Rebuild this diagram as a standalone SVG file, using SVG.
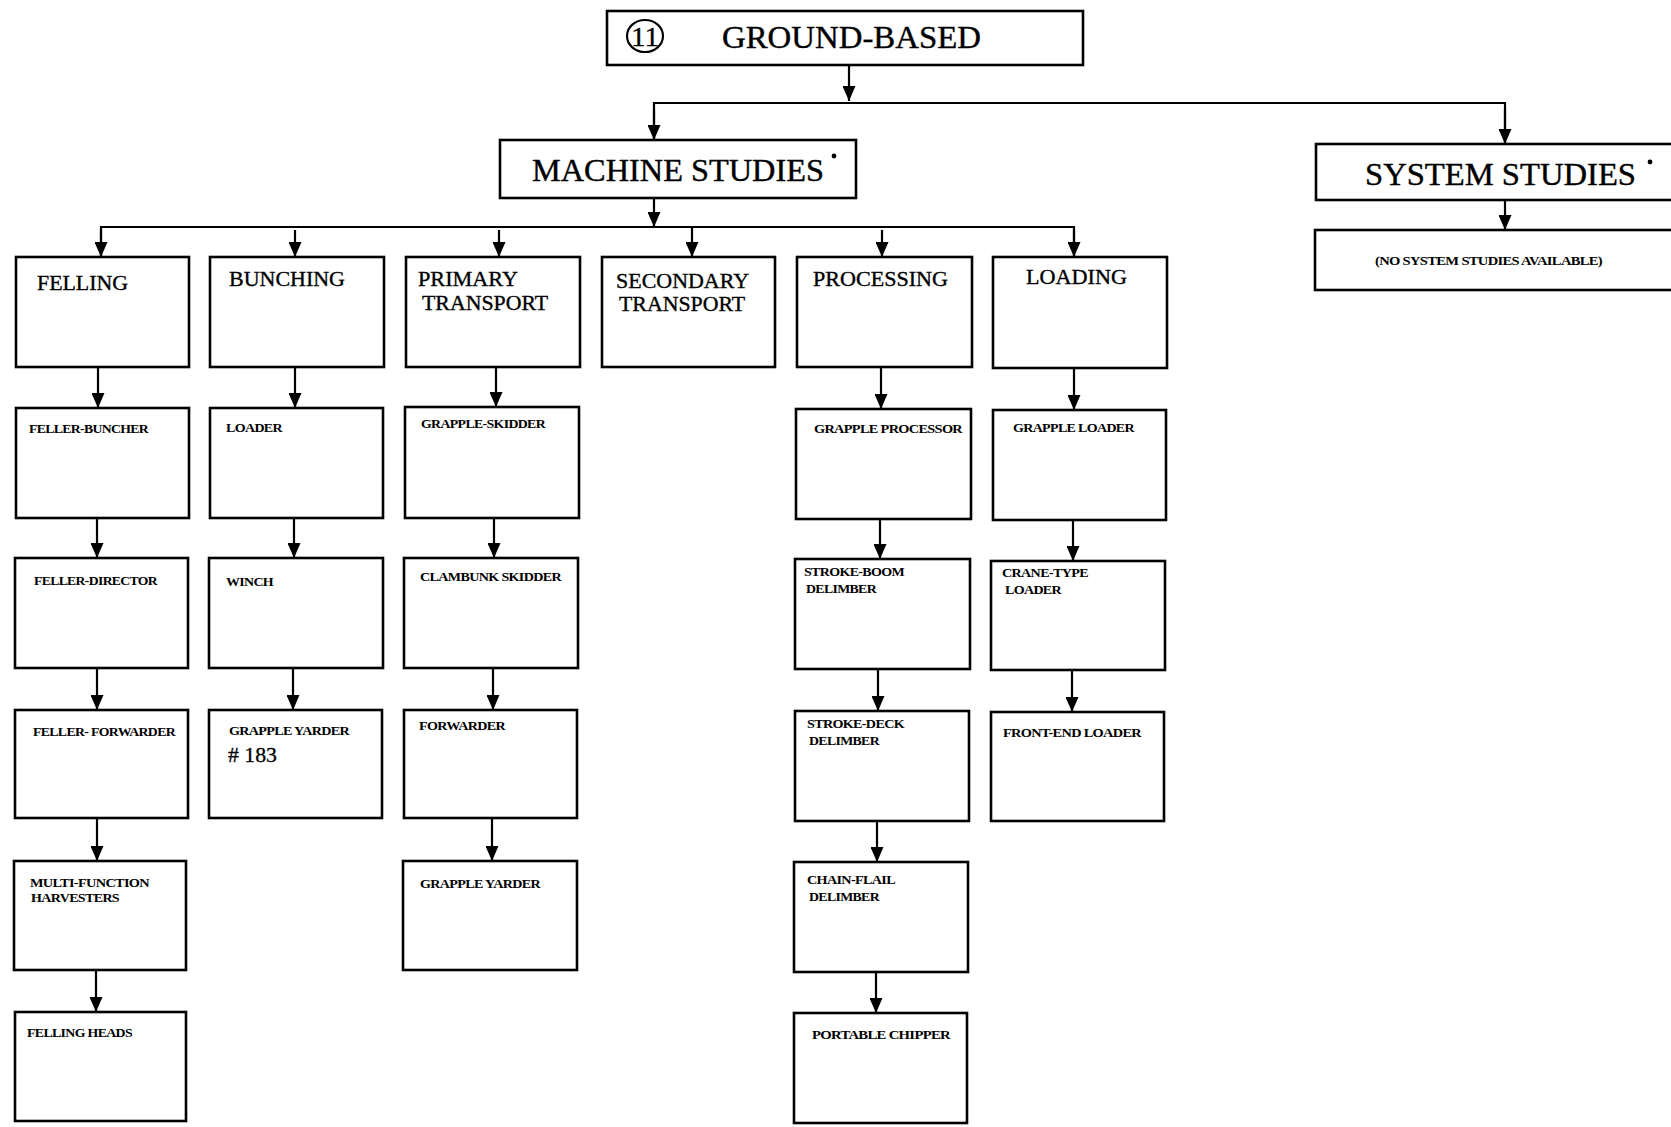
<svg xmlns="http://www.w3.org/2000/svg" width="1671" height="1127" viewBox="0 0 1671 1127">
<style>
.box{fill:#fff;stroke:#000;stroke-width:2.6}
.ln{fill:none;stroke:#000;stroke-width:2.2}
.big{font-family:"Liberation Serif","Times New Roman",serif;font-size:31px;fill:#000;stroke:#000;stroke-width:0.4}
.mid{font-family:"Liberation Serif","Times New Roman",serif;font-size:22px;fill:#000;stroke:#000;stroke-width:0.35}
.sm{font-family:"Liberation Serif","Times New Roman",serif;font-size:13px;font-weight:bold;fill:#000;letter-spacing:-0.6px}
.num{font-family:"Liberation Serif","Times New Roman",serif;font-size:21px;fill:#000;stroke:#000;stroke-width:0.3}
.circ{font-family:"Liberation Serif","Times New Roman",serif;font-size:28px;fill:#000;stroke:#000;stroke-width:0.3}
</style>
<defs>
<marker id="a" markerUnits="userSpaceOnUse" markerWidth="15" markerHeight="13" viewBox="0 0 15 13" refX="15" refY="6.5" orient="auto">
<path d="M0,0 L15,6.5 L0,13 Z" fill="#000"/>
</marker>
</defs>

<g id="connectors">
<line class="ln" x1="849" y1="65" x2="849" y2="101" marker-end="url(#a)"/>
<polyline class="ln" points="654,140 654,103 1505,103 1505,144" />
<line class="ln" x1="654" y1="110" x2="654" y2="140" marker-end="url(#a)"/>
<line class="ln" x1="1505" y1="110" x2="1505" y2="144" marker-end="url(#a)"/>
<line class="ln" x1="1505" y1="200" x2="1505" y2="230" marker-end="url(#a)"/>
<line class="ln" x1="654" y1="198" x2="654" y2="227" marker-end="url(#a)"/>
<polyline class="ln" points="101,257 101,227 1074,227 1074,257"/>
<line class="ln" x1="101" y1="230" x2="101" y2="257" marker-end="url(#a)"/>
<line class="ln" x1="295" y1="230" x2="295" y2="257" marker-end="url(#a)"/>
<line class="ln" x1="499" y1="230" x2="499" y2="257" marker-end="url(#a)"/>
<line class="ln" x1="692" y1="227" x2="692" y2="257" marker-end="url(#a)"/>
<line class="ln" x1="882" y1="230" x2="882" y2="257" marker-end="url(#a)"/>
<line class="ln" x1="1074" y1="230" x2="1074" y2="257" marker-end="url(#a)"/>
<line class="ln" x1="98" y1="367" x2="98" y2="408" marker-end="url(#a)"/>
<line class="ln" x1="97" y1="518" x2="97" y2="558" marker-end="url(#a)"/>
<line class="ln" x1="97" y1="668" x2="97" y2="710" marker-end="url(#a)"/>
<line class="ln" x1="97" y1="818" x2="97" y2="861" marker-end="url(#a)"/>
<line class="ln" x1="96" y1="970" x2="96" y2="1012" marker-end="url(#a)"/>
<line class="ln" x1="295" y1="367" x2="295" y2="408" marker-end="url(#a)"/>
<line class="ln" x1="294" y1="518" x2="294" y2="558" marker-end="url(#a)"/>
<line class="ln" x1="293" y1="668" x2="293" y2="710" marker-end="url(#a)"/>
<line class="ln" x1="496" y1="367" x2="496" y2="407" marker-end="url(#a)"/>
<line class="ln" x1="494" y1="518" x2="494" y2="558" marker-end="url(#a)"/>
<line class="ln" x1="493" y1="668" x2="493" y2="710" marker-end="url(#a)"/>
<line class="ln" x1="492" y1="818" x2="492" y2="861" marker-end="url(#a)"/>
<line class="ln" x1="881" y1="367" x2="881" y2="409" marker-end="url(#a)"/>
<line class="ln" x1="880" y1="519" x2="880" y2="559" marker-end="url(#a)"/>
<line class="ln" x1="878" y1="669" x2="878" y2="711" marker-end="url(#a)"/>
<line class="ln" x1="877" y1="821" x2="877" y2="862" marker-end="url(#a)"/>
<line class="ln" x1="876" y1="972" x2="876" y2="1013" marker-end="url(#a)"/>
<line class="ln" x1="1074" y1="368" x2="1074" y2="410" marker-end="url(#a)"/>
<line class="ln" x1="1073" y1="520" x2="1073" y2="561" marker-end="url(#a)"/>
<line class="ln" x1="1072" y1="670" x2="1072" y2="712" marker-end="url(#a)"/>
</g>

<g id="ground-based">
<rect class="box" x="607" y="11" width="476" height="54"/>
<ellipse cx="645" cy="36" rx="18" ry="16" fill="none" stroke="#000" stroke-width="2.2"/>
<text class="circ" x="645" y="46" text-anchor="middle" textLength="28" lengthAdjust="spacingAndGlyphs">11</text>
<text class="big" x="722" y="48" textLength="259" lengthAdjust="spacingAndGlyphs">GROUND-BASED</text>
</g>

<g id="machine-studies">
<rect class="box" x="500" y="140" width="356" height="58"/>
<text class="big" x="532" y="181" textLength="292" lengthAdjust="spacingAndGlyphs">MACHINE STUDIES</text>
<circle cx="834" cy="156" r="2.4" fill="#000"/>
</g>

<g id="system-studies">
<rect class="box" x="1316" y="144" width="370" height="56"/>
<text class="big" x="1365" y="185" textLength="271" lengthAdjust="spacingAndGlyphs">SYSTEM STUDIES</text>
<circle cx="1650" cy="162" r="2.4" fill="#000"/>
</g>

<g id="no-system-studies">
<rect class="box" x="1315" y="230" width="370" height="60"/>
<text class="sm" x="1375" y="265" textLength="227" lengthAdjust="spacingAndGlyphs">(NO SYSTEM STUDIES AVAILABLE)</text>
</g>

<g id="felling">
<rect class="box" x="16" y="257" width="173" height="110"/>
<text class="mid" x="37" y="290" textLength="91" lengthAdjust="spacingAndGlyphs">FELLING</text>
</g>
<g id="bunching">
<rect class="box" x="210" y="257" width="174" height="110"/>
<text class="mid" x="229" y="286" textLength="116" lengthAdjust="spacingAndGlyphs">BUNCHING</text>
</g>
<g id="primary-transport">
<rect class="box" x="406" y="257" width="174" height="110"/>
<text class="mid" x="418" y="286" textLength="100" lengthAdjust="spacingAndGlyphs">PRIMARY</text>
<text class="mid" x="422" y="310" textLength="126" lengthAdjust="spacingAndGlyphs">TRANSPORT</text>
</g>
<g id="secondary-transport">
<rect class="box" x="602" y="257" width="173" height="110"/>
<text class="mid" x="616" y="288" textLength="133" lengthAdjust="spacingAndGlyphs">SECONDARY</text>
<text class="mid" x="619" y="311" textLength="126" lengthAdjust="spacingAndGlyphs">TRANSPORT</text>
</g>
<g id="processing">
<rect class="box" x="797" y="257" width="175" height="110"/>
<text class="mid" x="813" y="286" textLength="135" lengthAdjust="spacingAndGlyphs">PROCESSING</text>
</g>
<g id="loading">
<rect class="box" x="993" y="257" width="174" height="111"/>
<text class="mid" x="1026" y="284" textLength="101" lengthAdjust="spacingAndGlyphs">LOADING</text>
</g>

<g id="feller-buncher">
<rect class="box" x="16" y="408" width="173" height="110"/>
<text class="sm" x="29" y="433" textLength="119" lengthAdjust="spacingAndGlyphs">FELLER-BUNCHER</text>
</g>
<g id="feller-director">
<rect class="box" x="15" y="558" width="173" height="110"/>
<text class="sm" x="34" y="585" textLength="123" lengthAdjust="spacingAndGlyphs">FELLER-DIRECTOR</text>
</g>
<g id="feller-forwarder">
<rect class="box" x="15" y="710" width="173" height="108"/>
<text class="sm" x="33" y="736" textLength="142" lengthAdjust="spacingAndGlyphs">FELLER- FORWARDER</text>
</g>
<g id="multi-function-harvesters">
<rect class="box" x="14" y="861" width="172" height="109"/>
<text class="sm" x="30" y="887" textLength="119" lengthAdjust="spacingAndGlyphs">MULTI-FUNCTION</text>
<text class="sm" x="31" y="902" textLength="88" lengthAdjust="spacingAndGlyphs">HARVESTERS</text>
</g>
<g id="felling-heads">
<rect class="box" x="15" y="1012" width="171" height="109"/>
<text class="sm" x="27" y="1037" textLength="105" lengthAdjust="spacingAndGlyphs">FELLING HEADS</text>
</g>

<g id="loader">
<rect class="box" x="210" y="408" width="173" height="110"/>
<text class="sm" x="226" y="432" textLength="56" lengthAdjust="spacingAndGlyphs">LOADER</text>
</g>
<g id="winch">
<rect class="box" x="209" y="558" width="174" height="110"/>
<text class="sm" x="226" y="586" textLength="47" lengthAdjust="spacingAndGlyphs">WINCH</text>
</g>
<g id="grapple-yarder-183">
<rect class="box" x="209" y="710" width="173" height="108"/>
<text class="sm" x="229" y="735" textLength="120" lengthAdjust="spacingAndGlyphs">GRAPPLE YARDER</text>
<text class="num" x="228" y="762" textLength="49" lengthAdjust="spacingAndGlyphs"># 183</text>
</g>

<g id="grapple-skidder">
<rect class="box" x="405" y="407" width="174" height="111"/>
<text class="sm" x="421" y="428" textLength="124" lengthAdjust="spacingAndGlyphs">GRAPPLE-SKIDDER</text>
</g>
<g id="clambunk-skidder">
<rect class="box" x="404" y="558" width="174" height="110"/>
<text class="sm" x="420" y="581" textLength="141" lengthAdjust="spacingAndGlyphs">CLAMBUNK SKIDDER</text>
</g>
<g id="forwarder">
<rect class="box" x="404" y="710" width="173" height="108"/>
<text class="sm" x="419" y="730" textLength="86" lengthAdjust="spacingAndGlyphs">FORWARDER</text>
</g>
<g id="grapple-yarder">
<rect class="box" x="403" y="861" width="174" height="109"/>
<text class="sm" x="420" y="888" textLength="120" lengthAdjust="spacingAndGlyphs">GRAPPLE YARDER</text>
</g>

<g id="grapple-processor">
<rect class="box" x="796" y="409" width="175" height="110"/>
<text class="sm" x="814" y="433" textLength="148" lengthAdjust="spacingAndGlyphs">GRAPPLE  PROCESSOR</text>
</g>
<g id="stroke-boom-delimber">
<rect class="box" x="795" y="559" width="175" height="110"/>
<text class="sm" x="804" y="576" textLength="100" lengthAdjust="spacingAndGlyphs">STROKE-BOOM</text>
<text class="sm" x="806" y="593" textLength="70" lengthAdjust="spacingAndGlyphs">DELIMBER</text>
</g>
<g id="stroke-deck-delimber">
<rect class="box" x="795" y="711" width="174" height="110"/>
<text class="sm" x="807" y="728" textLength="97" lengthAdjust="spacingAndGlyphs">STROKE-DECK</text>
<text class="sm" x="809" y="745" textLength="70" lengthAdjust="spacingAndGlyphs">DELIMBER</text>
</g>
<g id="chain-flail-delimber">
<rect class="box" x="794" y="862" width="174" height="110"/>
<text class="sm" x="807" y="884" textLength="88" lengthAdjust="spacingAndGlyphs">CHAIN-FLAIL</text>
<text class="sm" x="809" y="901" textLength="70" lengthAdjust="spacingAndGlyphs">DELIMBER</text>
</g>
<g id="portable-chipper">
<rect class="box" x="794" y="1013" width="173" height="110"/>
<text class="sm" x="812" y="1039" textLength="138" lengthAdjust="spacingAndGlyphs">PORTABLE  CHIPPER</text>
</g>

<g id="grapple-loader">
<rect class="box" x="993" y="410" width="173" height="110"/>
<text class="sm" x="1013" y="432" textLength="121" lengthAdjust="spacingAndGlyphs">GRAPPLE LOADER</text>
</g>
<g id="crane-type-loader">
<rect class="box" x="991" y="561" width="174" height="109"/>
<text class="sm" x="1002" y="577" textLength="86" lengthAdjust="spacingAndGlyphs">CRANE-TYPE</text>
<text class="sm" x="1005" y="594" textLength="56" lengthAdjust="spacingAndGlyphs">LOADER</text>
</g>
<g id="front-end-loader">
<rect class="box" x="991" y="712" width="173" height="109"/>
<text class="sm" x="1003" y="737" textLength="138" lengthAdjust="spacingAndGlyphs">FRONT-END LOADER</text>
</g>
</svg>
